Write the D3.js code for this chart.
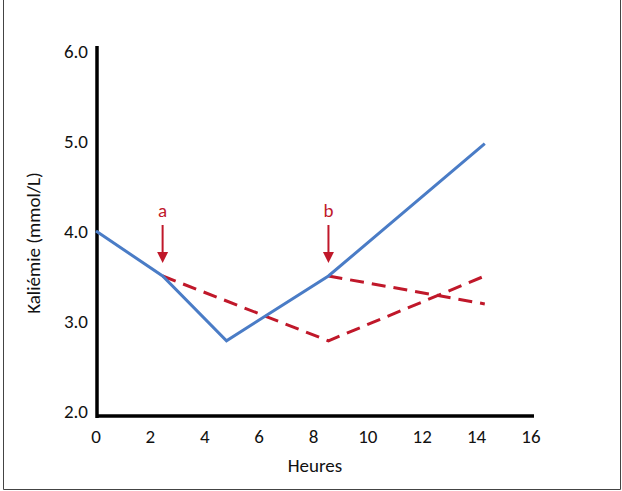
<!DOCTYPE html>
<head>
  <meta charset="utf-8">
  <style>
    body { margin: 0; background: #fff; }
    svg { display: block; font-family: Carlito, Lato, sans-serif; }
  </style>
  <script src="https://cdn.jsdelivr.net/npm/d3@7"></script>
</head>
<body>
<svg id=chart width="622" height="491"></svg>
<script>
// time in hours, kaliemie in mmol/L
const xTicks = [0, 2, 4, 6, 8, 10, 12, 14, 16]
const yTicks = [2, 3, 4, 5, 6]
const blueLine = [[0, 4.0], [2.45, 3.5], [4.8, 2.78], [8.55, 3.5], [14.3, 4.97]]
const redDash1 = [[2.45, 3.5], [8.55, 2.78], [14.3, 3.5]]
const redDash2 = [[8.55, 3.5], [14.3, 3.19]]
const arrows = [{ label: 'a', x: 2.45, y: 3.5 }, { label: 'b', x: 8.55, y: 3.5 }]

const svg = d3.select('#chart')
const x = d3.scaleLinear().domain([0, 16]).range([96, 531])
const y = d3.scaleLinear().domain([2, 6]).range([411, 51])
const blue = '#4a7cc6', red = '#c0182a'

// frame round the figure
svg.append('path')
  .attr('d', 'M3.5,-2 V489.5 H620.5 V-2')
  .attr('fill', 'none').attr('stroke', '#444').attr('stroke-width', 1)

// axes
svg.append('line').attr('x1', 97).attr('x2', 97).attr('y1', 46).attr('y2', 418)
  .attr('stroke', '#000').attr('stroke-width', 3.5)
svg.append('line').attr('x1', 96).attr('x2', 534).attr('y1', 416).attr('y2', 416)
  .attr('stroke', '#000').attr('stroke-width', 3.5)

svg.append('g').selectAll('text').data(yTicks).join('text')
  .attr('x', 88).attr('y', d => y(d)).attr('dy', '0.35em')
  .attr('text-anchor', 'end').attr('font-size', 19).attr('fill', '#111')
  .text(d => d.toFixed(1))

svg.append('g').selectAll('text').data(xTicks).join('text')
  .attr('x', d => x(d)).attr('y', 436).attr('dy', '0.35em')
  .attr('text-anchor', 'middle').attr('font-size', 19).attr('fill', '#111')
  .text(d => d)

svg.append('text').attr('x', 315).attr('y', 465).attr('dy', '0.35em')
  .attr('text-anchor', 'middle').attr('font-size', 19).attr('fill', '#111')
  .text('Heures')

svg.append('text')
  .attr('transform', 'translate(33,243) rotate(-90)').attr('dy', '0.35em')
  .attr('text-anchor', 'middle').attr('font-size', 19).attr('fill', '#111')
  .text('Kaliémie (mmol/L)')

// curves
const line = d3.line().x(d => x(d[0])).y(d => y(d[1]))
svg.append('path').datum(redDash1).attr('d', line)
  .attr('fill', 'none').attr('stroke', red).attr('stroke-width', 3)
  .attr('stroke-dasharray', '14,8')
svg.append('path').datum(redDash2).attr('d', line)
  .attr('fill', 'none').attr('stroke', red).attr('stroke-width', 3)
  .attr('stroke-dasharray', '14,8')
svg.append('path').datum(blueLine).attr('d', line)
  .attr('fill', 'none').attr('stroke', blue).attr('stroke-width', 3)
  .attr('stroke-linejoin', 'miter')

// arrows a and b
const ag = svg.append('g').selectAll('g').data(arrows).join('g')
  .attr('transform', d => `translate(${x(d.x)},${y(d.y)})`)
ag.append('line').attr('x1', 0).attr('x2', 0).attr('y1', -51).attr('y2', -22)
  .attr('stroke', red).attr('stroke-width', 2)
ag.append('path').attr('d', 'M-5.5,-24 L5.5,-24 L0,-13 Z').attr('fill', red)
ag.append('text').attr('y', -66).attr('dy', '0.35em')
  .attr('text-anchor', 'middle').attr('font-size', 19).attr('fill', red)
  .text(d => d.label)
</script>
</body>
